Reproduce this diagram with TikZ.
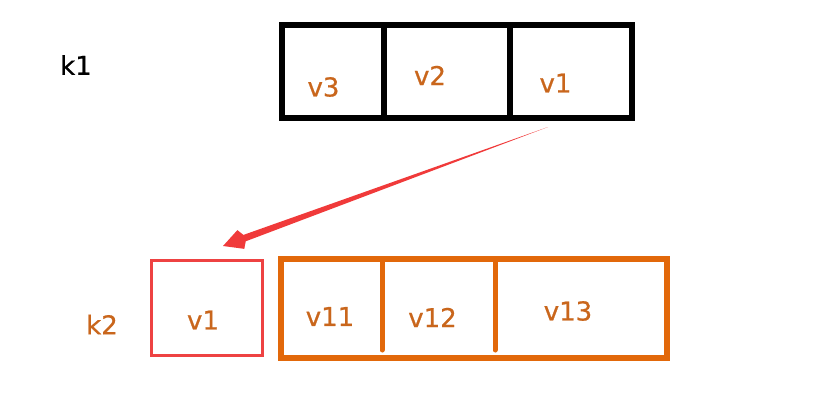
\documentclass[tikz,border=0pt]{standalone}
\usepackage{fontspec}
\setmainfont{DejaVu Sans}
\newfontfamily\valfont{DejaVu Sans}[FakeBold=0.7]
\usetikzlibrary{calc}
\definecolor{txtorange}{HTML}{C9661C}
\definecolor{boxorange}{HTML}{E2680A}
\definecolor{boxred}{HTML}{EE4242}
\definecolor{arrowred}{HTML}{F03A3A}
\begin{document}
\begin{tikzpicture}[x=1pt,y=-1pt,
  blackcell/.style={draw=black, line width=6pt, inner sep=0pt, outer sep=0pt},
  redcell/.style={draw=boxred, line width=2.8pt, inner sep=0pt, outer sep=0pt},
  orangebox/.style={draw=boxorange, line width=6pt, inner sep=0pt, outer sep=0pt},
  divider/.style={draw=boxorange, line width=5pt, line cap=round},
  val/.style={text=txtorange, font=\valfont\fontsize{26}{30}\selectfont, inner sep=0pt, anchor=center},
  key/.style={font=\valfont\fontsize{26}{30}\selectfont, inner sep=0pt, anchor=center}]
\useasboundingbox (0,0) rectangle (838,420);
% top row
\node[blackcell, minimum width=102pt, minimum height=93.3pt] (c3) at (333,71.35) {};
\node[blackcell, minimum width=126pt, minimum height=93.3pt] (c2) at (447,71.35) {};
\node[blackcell, minimum width=122pt, minimum height=93.3pt] (c1) at (571,71.35) {};
\node[val] (t3) at (323.5,87) {v3};
\node[val] (t2) at (430,75.5) {v2};
\node[val] (t1) at (555.5,83) {v1};
\node[key] (k1) at (76,65) {k1};
% bottom row
\node[redcell, minimum width=111pt, minimum height=95pt] (r1) at (207,308) {};
\node[val] (rt1) at (203,320) {v1};
\node[orangebox, minimum width=386pt, minimum height=99pt] (ob) at (473.5,308.5) {};
\coordinate (d1top) at (382,259);
\coordinate (d1bot) at (382,350);
\coordinate (d2top) at (495,259);
\coordinate (d2bot) at (495,350);
\draw[divider] (d1top) -- (d1bot);
\draw[divider] (d2top) -- (d2bot);
\node[val] (o1) at (330,316.5) {v11};
\node[val] (o2) at (432.5,317.5) {v12};
\node[val] (o3) at (568,311) {v13};
\node[key, text=txtorange] (k2) at (102,324.5) {k2};
% tapered arrow
\coordinate (S) at (548,127);
\coordinate (T) at (223,246);
\coordinate (B) at ($(T)!23pt!(S)$);
\coordinate (Bb) at ($(T)!19pt!(S)$);
\fill[arrowred] (S) -- ($(B)!3.4pt!90:(S)$) -- ($(Bb)!10pt!90:(S)$) -- (T)
  -- ($(Bb)!10pt!-90:(S)$) -- ($(B)!3.4pt!-90:(S)$) -- cycle;
\end{tikzpicture}
\end{document}
